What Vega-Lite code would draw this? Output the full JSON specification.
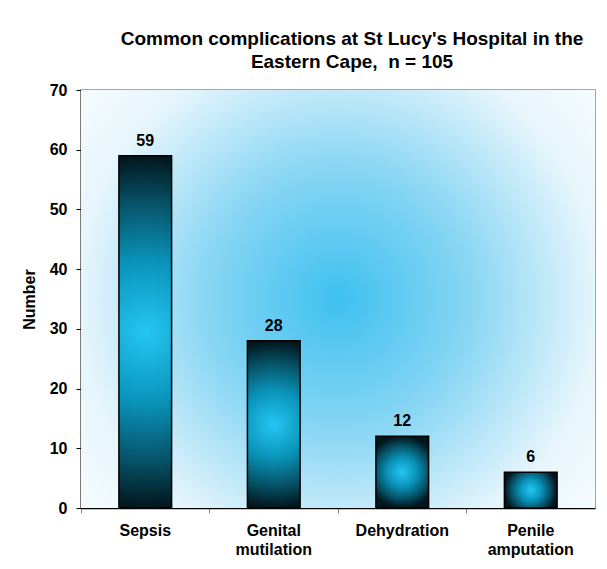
{
  "$schema": "https://vega.github.io/schema/vega-lite/v6.json",
  "width": 514,
  "height": 418,
  "autosize": {"type": "none"},
  "padding": {"left": 81, "top": 90, "right": 12, "bottom": 61},
  "background": "white",
  "title": {
    "text": ["Common complications at St Lucy's Hospital in the", "Eastern Cape,\u00a0 n = 105"],
    "font": "Liberation Sans",
    "fontSize": 19,
    "fontWeight": "bold",
    "color": "#000000",
    "anchor": "middle",
    "dx": 14,
    "offset": 10,
    "lineHeight": 23
  },
  "datasets": {
    "bg": [{"k": 1}],
    "main": [
      {"complication": "Sepsis", "number": 59},
      {"complication": "Genital mutilation", "number": 28},
      {"complication": "Dehydration", "number": 12},
      {"complication": "Penile amputation", "number": 6}
    ]
  },
  "layer": [
    {
      "data": {"name": "bg"},
      "mark": {
        "type": "rect",
        "color": {
          "gradient": "radial",
          "x1": 0.5, "y1": 0.5, "x2": 0.5, "y2": 0.5, "r1": 0, "r2": 0.72,
          "stops": [
            {"offset": 0, "color": "#3ec0f0"},
            {"offset": 0.35, "color": "#86d5f3"},
            {"offset": 0.7, "color": "#e6f5fc"},
            {"offset": 1, "color": "#ffffff"}
          ]
        }
      },
      "encoding": {}
    },
    {
      "data": {"name": "main"},
      "mark": {
        "type": "bar",
        "width": {"band": 0.41},
        "stroke": "#000000",
        "strokeWidth": 1.5,
        "color": {
          "gradient": "radial",
          "x1": 0.5, "y1": 0.5, "x2": 0.5, "y2": 0.5, "r1": 0, "r2": 0.5,
          "stops": [
            {"offset": 0, "color": "#24c6f2"},
            {"offset": 0.4, "color": "#0a94bb"},
            {"offset": 0.75, "color": "#064f63"},
            {"offset": 1, "color": "#02161d"}
          ]
        }
      },
      "encoding": {
        "x": {
          "field": "complication",
          "type": "nominal",
          "sort": null,
          "scale": {"paddingInner": 0, "paddingOuter": 0},
          "axis": {
            "title": null,
            "labelAngle": 0,
            "labelExpr": "split(datum.label, ' ')",
            "labelFont": "Liberation Sans",
            "labelFontSize": 16,
            "labelFontWeight": "bold",
            "labelColor": "#000000",
            "labelLineHeight": 19,
            "labelPadding": 9,
            "bandPosition": 0,
            "tickSize": 5,
            "tickColor": "#888888",
            "domainColor": "#000000",
            "domainWidth": 1.5
          }
        },
        "y": {
          "field": "number",
          "type": "quantitative",
          "scale": {"domain": [0, 70], "nice": false},
          "axis": {
            "title": "Number",
            "titleFont": "Liberation Sans",
            "titleFontSize": 16,
            "titleFontWeight": "bold",
            "titleColor": "#000000",
            "titlePadding": 12,
            "values": [0, 10, 20, 30, 40, 50, 60, 70],
            "grid": false,
            "labelFont": "Liberation Sans",
            "labelFontSize": 16,
            "labelFontWeight": "bold",
            "labelColor": "#000000",
            "labelPadding": 9,
            "tickSize": 5,
            "tickColor": "#000000",
            "domainColor": "#000000",
            "domainWidth": 1.5
          }
        }
      }
    },
    {
      "data": {"name": "main"},
      "mark": {
        "type": "text",
        "baseline": "alphabetic",
        "dy": -10,
        "font": "Liberation Sans",
        "fontSize": 16,
        "fontWeight": "bold",
        "color": "#000000"
      },
      "encoding": {
        "x": {"field": "complication", "type": "nominal", "sort": null},
        "y": {"field": "number", "type": "quantitative"},
        "text": {"field": "number", "type": "quantitative"}
      }
    }
  ],
  "config": {
    "view": {"stroke": "#888888", "strokeWidth": 1.5}
  }
}
